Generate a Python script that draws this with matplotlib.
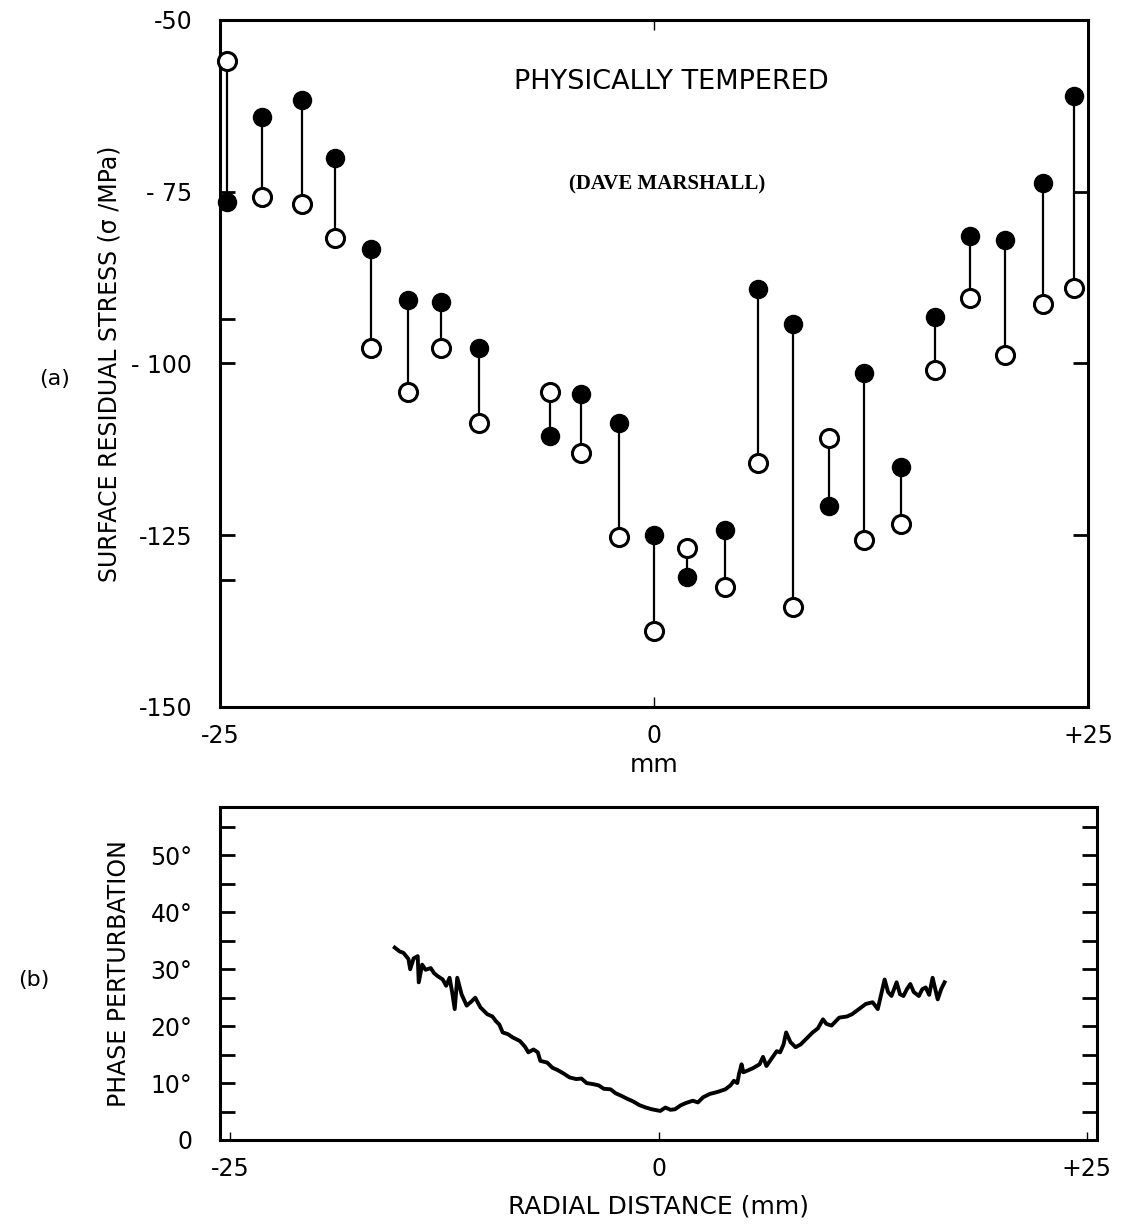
import numpy as np
import matplotlib.pyplot as plt
from matplotlib.ticker import FixedLocator

# ---- data ----
# (a) surface residual stress, two measurements per radial position
pos_mm = [-24.6, -22.6, -20.3, -18.4, -16.3, -14.2, -12.3, -10.1, -6.0, -4.2, -2.0, 0.0,
          1.9, 4.1, 6.0, 8.0, 10.1, 12.1, 14.2, 16.2, 18.2, 20.2, 22.4, 24.2]
stress_filled = [-76.5, -64.1, -61.6, -70.1, -83.3, -90.8, -91.1, -97.7, -110.5, -104.4, -108.7, -125.0,
                 -131.1, -124.3, -89.1, -94.2, -120.8, -101.4, -115.1, -93.3, -81.4, -82.1, -73.8, -61.0]
stress_open = [-56.0, -75.7, -76.8, -81.8, -97.8, -104.2, -97.8, -108.7, -104.1, -113.1, -125.3, -139.0,
               -126.9, -132.6, -114.5, -135.5, -110.8, -125.7, -123.4, -101.0, -90.4, -98.8, -91.4, -89.0]

# (b) phase perturbation trace
phase_x = [-15.4, -15.1, -14.9, -14.6, -14.5, -14.3, -14.06, -14.0, -13.8, -13.6, -13.3, -13.1, -12.9,
           -12.6, -12.4, -12.2, -12.05, -11.9, -11.75, -11.5, -11.2, -10.9, -10.7, -10.4, -10.0, -9.7,
           -9.5, -9.3, -9.1, -8.8, -8.5, -8.1, -7.8, -7.6, -7.3, -7.05, -6.9, -6.5, -6.2, -5.9, -5.5,
           -5.2, -4.8, -4.5, -4.2, -3.8, -3.5, -3.2, -2.8, -2.5, -2.2, -1.8, -1.5, -1.1, -0.74, -0.4,
           0.1, 0.4, 0.7, 0.96, 1.3, 1.6, 2.0, 2.3, 2.6, 3.0, 3.4, 3.9, 4.2, 4.4, 4.6, 4.7, 4.85, 4.95,
           5.2, 5.5, 5.9, 6.1, 6.3, 6.6, 6.9, 7.1, 7.3, 7.45, 7.7, 8.0, 8.3, 8.6, 9.0, 9.3, 9.6, 9.8,
           10.1, 10.55, 11.0, 11.3, 11.7, 12.1, 12.5, 12.8, 13.0, 13.2, 13.4, 13.6, 13.9, 14.1, 14.3,
           14.5, 14.7, 14.9, 15.2, 15.4, 15.6, 15.8, 16.0, 16.3, 16.5, 16.7]
phase_deg = [33.8, 33.1, 32.9, 31.8, 30.0, 31.9, 32.3, 27.7, 30.8, 29.9, 30.2, 29.3, 28.8,
             28.2, 27.1, 28.5, 26.0, 23.0, 28.5, 25.6, 23.6, 24.4, 25.0, 23.3, 22.1, 21.7,
             20.9, 20.3, 18.9, 18.6, 18.0, 17.4, 16.4, 15.4, 15.9, 15.4, 13.9, 13.6, 12.7, 12.3, 11.6,
             11.0, 10.7, 10.8, 10.0, 9.8, 9.6, 9.0, 8.9, 8.2, 7.8, 7.2, 6.8, 6.1, 5.7, 5.4,
             5.1, 5.7, 5.3, 5.4, 6.1, 6.5, 6.9, 6.6, 7.5, 8.1, 8.4, 8.9, 9.6, 10.4, 10.0, 11.6, 13.3, 11.9,
             12.2, 12.6, 13.3, 14.6, 13.0, 14.3, 15.6, 15.4, 16.8, 18.9, 17.2, 16.3, 16.8, 17.7, 18.9, 19.6, 21.2, 20.4,
             20.1, 21.5, 21.7, 22.1, 23.0, 23.9, 24.2, 23.0, 25.6, 28.2, 26.0, 25.3, 27.7, 25.6, 25.3,
             26.5, 27.4, 26.0, 25.3, 26.5, 26.8, 25.5, 28.5, 24.7, 26.5, 27.7]

stress_ticks = [-150, -125, -100, -75, -50]
stress_labels = ['-150', '-125', '- 100', '- 75', '-50']
phase_ticks = [0, 10, 20, 30, 40, 50]
phase_labels = ['0', '10°', '20°', '30°', '40°', '50°']
x_ticks = [-25, 0, 25]
x_labels = ['-25', '0', '+25']

plt.rcParams['font.family'] = ['DejaVu Sans']
fig = plt.figure(figsize=(11.21, 12.25), dpi=100)

# ---- (a) ----
ax1 = fig.add_axes([0.1963, 0.4229, 0.7743, 0.5608])
ax1.vlines(pos_mm, stress_filled, stress_open, color='black', lw=1.6, zorder=2)
ax1.plot(pos_mm, stress_open, 'o', ms=13, mfc='white', mec='black', mew=2.2, clip_on=False, zorder=3)
ax1.plot(pos_mm, stress_filled, 'o', ms=13, mfc='black', mec='black', clip_on=False, zorder=3)
ax1.set_xlim(-25, 25)
ax1.set_ylim(-150, -50)
ax1.set_yticks(stress_ticks)
ax1.set_yticklabels(stress_labels, fontsize=17)
ax1.yaxis.set_minor_locator(FixedLocator([-93.5, -131.5]))
ax1.set_xticks(x_ticks)
ax1.set_xticklabels(x_labels, fontsize=17)
ax1.tick_params(axis='y', which='major', direction='in', length=11, width=2, left=True, right=True, pad=20)
ax1.tick_params(axis='y', which='minor', direction='in', length=11, width=2, left=True, right=False)
ax1.tick_params(axis='x', direction='in', length=7, width=1, top=True, pad=12)
for s in ax1.spines.values():
    s.set_linewidth(2.2)
ax1.set_xlabel('mm', fontsize=18, labelpad=4)
ax1.set_ylabel('SURFACE RESIDUAL STRESS (σ /MPa)', fontsize=17, labelpad=7)
ax1.text(0.52, 0.91, 'PHYSICALLY TEMPERED', transform=ax1.transAxes, ha='center', va='center', fontsize=19.5)
ax1.text(0.515, 0.76, '(DAVE MARSHALL)', transform=ax1.transAxes, ha='center', va='center',
         fontsize=15, fontweight='bold', family='Liberation Serif')
fig.text(0.049, 0.691, '(a)', ha='center', va='center', fontsize=16)

# ---- (b) ----
ax2 = fig.add_axes([0.1963, 0.0694, 0.7823, 0.2718])
ax2.plot(phase_x, phase_deg, color='black', lw=2.8, solid_joinstyle='round')
ax2.set_xlim(-25.6, 25.6)
ax2.set_ylim(0, 58.5)
ax2.set_yticks(phase_ticks)
ax2.set_yticklabels(phase_labels, fontsize=17)
ax2.yaxis.set_minor_locator(FixedLocator([5, 15, 25, 35, 45, 55]))
ax2.set_xticks(x_ticks)
ax2.set_xticklabels(x_labels, fontsize=17)
ax2.tick_params(axis='y', which='both', direction='in', length=11, width=2, left=True, right=True, pad=20)
ax2.tick_params(axis='x', direction='in', length=6, width=1, pad=12)
for s in ax2.spines.values():
    s.set_linewidth(2.2)
ax2.set_xlabel('RADIAL DISTANCE (mm)', fontsize=18, labelpad=10)
ax2.set_ylabel('PHASE PERTURBATION', fontsize=17, labelpad=14)
fig.text(0.03, 0.2, '(b)', ha='center', va='center', fontsize=16)

fig.savefig('out.png', dpi=100)
